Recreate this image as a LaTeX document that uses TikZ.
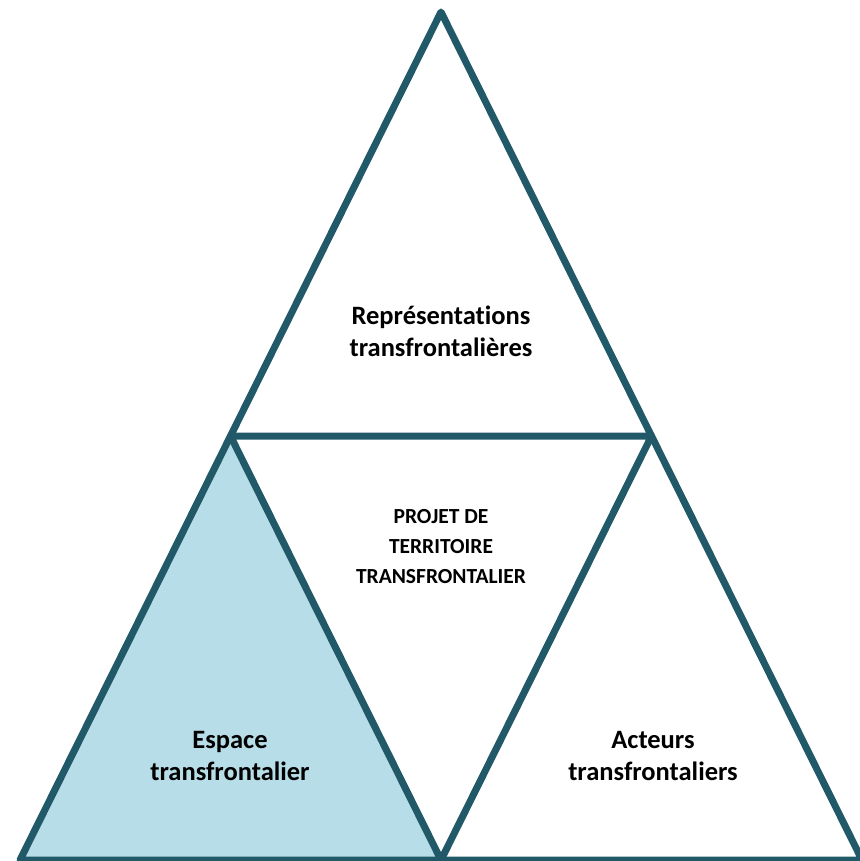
\documentclass[tikz,border=0pt]{standalone}
\usepackage{fontspec}
\setmainfont{Carlito}[Ligatures=NoCommon]
\definecolor{edge}{HTML}{215968}
\definecolor{aqua}{HTML}{B7DDE8}
\begin{document}
\begin{tikzpicture}[x=1pt,y=-1pt,
  tri/.style={draw=edge,line width=7pt,line join=round},
  lbl/.style={align=center,font=\bfseries\fontsize{26.5}{32}\selectfont,inner sep=0pt},
  mid/.style={align=center,font=\bfseries\fontsize{21.5}{30}\selectfont,inner sep=0pt}]
\useasboundingbox (0,0) rectangle (859,861);
\coordinate (T) at (441,12);
\coordinate (ML) at (230.5,436);
\coordinate (MR) at (651.5,436);
\coordinate (BL) at (20,860);
\coordinate (BM) at (441,860);
\coordinate (BR) at (862,860);
\fill[aqua] (ML) -- (BL) -- (BM) -- cycle;
\draw[tri] (T) -- (BL) -- (BR) -- cycle;
\draw[tri] (ML) -- (MR) -- (BM) -- cycle;
\node[lbl] (rep) at (441,331) {Représentations\\transfrontalières};
\node[mid] (proj) at (441,547) {PROJET DE\\TERRITOIRE\\TRANSFRONTALIER};
\node[lbl] (esp) at (230,756) {Espace\\transfrontalier};
\node[lbl] (act) at (653,756) {Acteurs\\transfrontaliers};
\end{tikzpicture}
\end{document}
